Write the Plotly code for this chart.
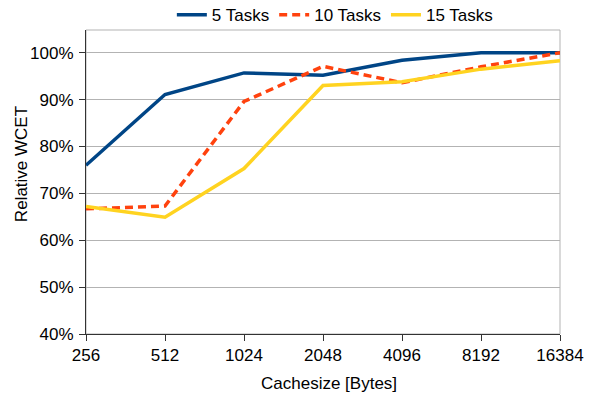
import plotly.graph_objects as go

cache_sizes = ["256", "512", "1024", "2048", "4096", "8192", "16384"]
tasks5 = [76.0, 91.1, 95.7, 95.2, 98.4, 100.0, 100.0]
tasks10 = [66.7, 67.3, 89.6, 97.1, 93.6, 97.0, 100.0]
tasks15 = [67.2, 64.9, 75.3, 93.0, 93.8, 96.5, 98.3]
y_ticks = [40, 50, 60, 70, 80, 90, 100]
y_labels = ["40%", "50%", "60%", "70%", "80%", "90%", "100%"]

series = [
    ("5 Tasks", tasks5, "#004586", "solid"),
    ("10 Tasks", tasks10, "#ff420e", "8px,5px"),
    ("15 Tasks", tasks15, "#ffd320", "solid"),
]

fig = go.Figure()
for name, vals, color, dash in series:
    fig.add_trace(go.Scatter(
        x=cache_sizes, y=vals, name=name, mode="lines",
        line=dict(color=color, width=3.5, dash=dash),
    ))

FONT = "Liberation Sans, Arial, sans-serif"
fig.update_layout(
    width=600, height=394,
    margin=dict(l=86, r=40, t=30, b=60, autoexpand=False),
    paper_bgcolor="white", plot_bgcolor="white",
    font=dict(family=FONT, size=17, color="#000000"),
    showlegend=True,
    legend=dict(orientation="h", x=0.525, xanchor="center", y=1.049, yanchor="middle",
                font=dict(size=17), itemwidth=30, tracegroupgap=0,
                bgcolor="rgba(0,0,0,0)"),
    shapes=[dict(type="rect", xref="paper", yref="paper", x0=0, x1=1, y0=0, y1=1,
                 line=dict(color="#b3b3b3", width=1), layer="below")],
    annotations=[
        dict(text="Relative WCET", xref="paper", yref="paper", x=-0.137, y=0.559,
             xanchor="center", yanchor="middle", textangle=-90, showarrow=False,
             font=dict(size=17)),
        dict(text="Cachesize [Bytes]", xref="paper", yref="paper", x=0.513, y=-0.164,
             xanchor="center", yanchor="middle", showarrow=False,
             font=dict(size=17)),
    ],
)
fig.update_xaxes(
    type="category", range=[0, 6],
    showline=True, linecolor="#333333", linewidth=1,
    ticks="outside", ticklen=6, tickcolor="#333333",
    showgrid=False, tickfont=dict(size=17),
)
fig.update_yaxes(
    range=[40, 104.85], tickvals=y_ticks, ticktext=y_labels,
    showline=True, linecolor="#333333", linewidth=1,
    ticks="outside", ticklen=6, tickcolor="#333333",
    showgrid=True, gridcolor="#b3b3b3", gridwidth=1,
    zeroline=False, tickfont=dict(size=17), ticklabelstandoff=2,
)

fig.write_html("out.html", config={"displayModeBar": False},
               post_script="document.body.style.margin='0';")
